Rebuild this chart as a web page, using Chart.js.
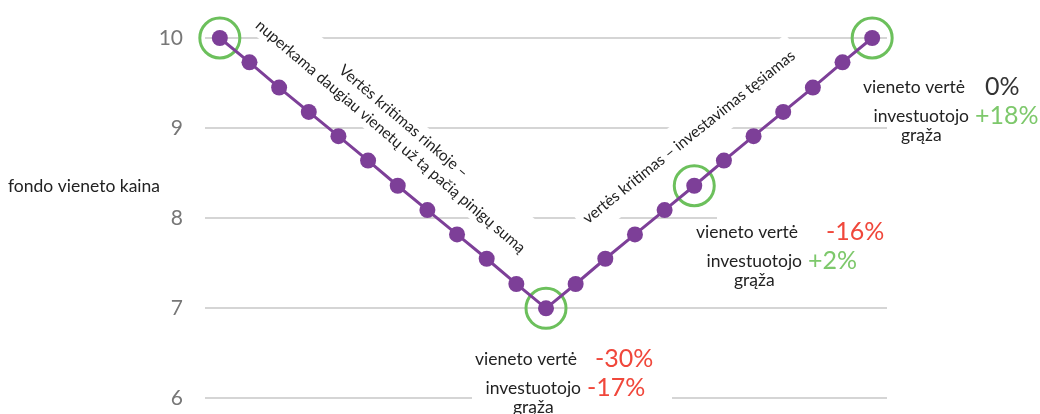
<!DOCTYPE html>
<html>
<head>
<meta charset="utf-8">
<script src="https://cdn.jsdelivr.net/npm/chart.js@4/dist/chart.umd.min.js"></script>
<style>
  html, body { margin: 0; padding: 0; background: #fff; overflow: hidden; }
  #wrap { width: 1040px; height: 433px; }
</style>
</head>
<body>
<div id="wrap"><canvas id="fundChart"></canvas></div>
<script>
// data
const periods = ['1','2','3','4','5','6','7','8','9','10','11','12','13','14','15','16','17','18','19','20','21','22','23'];
const unitPrice = [10, 9.73, 9.45, 9.18, 8.91, 8.64, 8.36, 8.09, 7.82, 7.55, 7.27, 7,
                   7.27, 7.55, 7.82, 8.09, 8.36, 8.64, 8.91, 9.18, 9.45, 9.73, 10];
const highlighted = [0, 11, 16, 22];
const unitChange = ['-30%', '-16%', '0%'];
const investorReturn = ['-17%', '+2%', '+18%'];
const yTitle = 'fondo vieneto kaina';
const fallText = ['Vertės kritimas rinkoje –', 'nuperkama daugiau vienetų už tą pačią pinigų sumą'];
const riseText = ['vertės kritimas – investavimas tęsiamas'];

const PURPLE = '#7d3f98';
const GREEN = '#6cc05c';
const RED = '#f0473b';
const GREEN_TXT = '#7dc86b';
const FONT = 'Lato, "Noto Sans", sans-serif';

function valueColor(v) {
  if (v.startsWith('-')) return RED;
  if (v.startsWith('+')) return GREEN_TXT;
  return '#333';
}

function rotatedBlock(ctx, lines, cx, cy, deg, lineH, padX, boxH) {
  ctx.save();
  ctx.translate(cx, cy);
  ctx.rotate(deg * Math.PI / 180);
  ctx.font = '15.5px ' + FONT;
  let w = Math.max(...lines.map(l => ctx.measureText(l).width)) + padX * 2;
  ctx.fillStyle = '#fff';
  ctx.fillRect(-w / 2, -boxH / 2, w, boxH);
  ctx.fillStyle = '#222';
  ctx.textAlign = 'center';
  ctx.textBaseline = 'middle';
  lines.forEach((l, i) => ctx.fillText(l, 0, (i - (lines.length - 1) / 2) * lineH));
  ctx.restore();
}

// callout boxes under the highlighted points
const calloutPos = [
  { x: 577, y: 359, vx: 595, box: [472, 342, 200, 72] },
  { x: 798, y: 232, vx: 826, box: [717, 216, 171, 80] },
  { x: 965, y: 87, vx: 985, box: [860, 72, 180, 40] }
];

const annotations = {
  id: 'annotations',
  beforeDatasetsDraw(chart) {
    const ctx = chart.ctx;
    rotatedBlock(ctx, fallText, 397, 129, 40.5, 20, 6, 42);
    rotatedBlock(ctx, riseText, 689, 137, -38.7, 20, 6, 40);

    calloutPos.forEach((p, i) => {
      ctx.save();
      ctx.fillStyle = '#fff';
      ctx.fillRect(p.box[0], p.box[1], p.box[2], p.box[3]);
      ctx.textBaseline = 'middle';
      ctx.font = '17.5px ' + FONT;
      ctx.fillStyle = '#222';
      ctx.textAlign = 'right';
      ctx.fillText('vieneto vertė', p.x, p.y);
      const invW = ctx.measureText('investuotojo').width;
      const invRight = p.x + 4;
      ctx.fillText('investuotojo', invRight, p.y + 29);
      ctx.textAlign = 'center';
      ctx.fillText('grąža', invRight - invW / 2, p.y + 48);
      ctx.font = '25px ' + FONT;
      ctx.textAlign = 'left';
      ctx.fillStyle = valueColor(unitChange[i]);
      ctx.fillText(unitChange[i], p.vx, p.y);
      ctx.fillStyle = valueColor(investorReturn[i]);
      ctx.fillText(investorReturn[i], invRight + 6, p.y + 29);
      ctx.restore();
    });

    ctx.save();
    ctx.font = '17.5px ' + FONT;
    ctx.fillStyle = '#222';
    ctx.textBaseline = 'middle';
    ctx.textAlign = 'left';
    ctx.fillText(yTitle, 8, 186);
    ctx.restore();
  }
};

new Chart(document.getElementById('fundChart'), {
  type: 'line',
  data: {
    labels: periods,
    datasets: [
      {
        data: unitPrice,
        borderColor: PURPLE,
        backgroundColor: PURPLE,
        pointBackgroundColor: PURPLE,
        pointBorderWidth: 0,
        pointRadius: 8,
        borderWidth: 3,
        clip: false,
        order: 1
      },
      {
        data: unitPrice.map((v, i) => highlighted.includes(i) ? v : null),
        showLine: false,
        pointRadius: 20,
        pointBorderColor: GREEN,
        pointBorderWidth: 3,
        pointBackgroundColor: 'rgba(0,0,0,0)',
        clip: false,
        order: 2
      }
    ]
  },
  options: {
    responsive: true,
    maintainAspectRatio: false,
    animation: false,
    layout: { autoPadding: false, padding: { top: 38, bottom: 16, right: 153, left: 0 } },
    plugins: { legend: { display: false }, tooltip: { enabled: false } },
    scales: {
      x: { display: false, offset: true },
      y: {
        min: 6,
        max: 10,
        ticks: { stepSize: 1, color: '#777', padding: 22, font: { size: 21, family: FONT } },
        grid: { color: '#d5d5d5', lineWidth: 2, drawTicks: false },
        border: { display: false },
        afterFit(scale) { scale.width = 205; }
      }
    }
  },
  plugins: [annotations]
});
</script>
</body>
</html>
